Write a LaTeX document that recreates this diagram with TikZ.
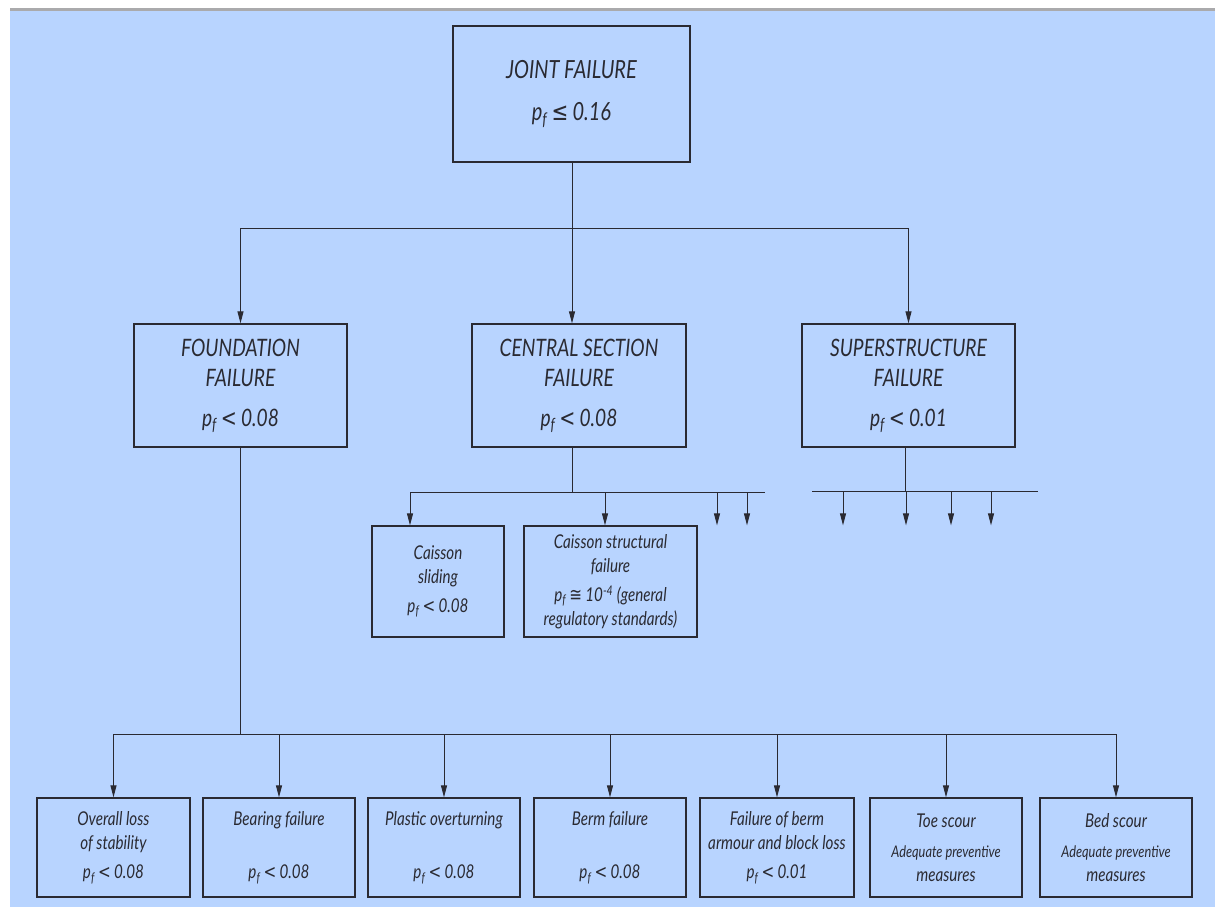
\documentclass[tikz,border=0pt]{standalone}
\usepackage{fontspec}
\setmainfont{Lato}[FakeStretch=0.8]
\newfontfamily\symfont{DejaVu Sans}[FakeStretch=0.8]
\usetikzlibrary{arrows.meta}

\definecolor{sheet}{RGB}{184,212,255}
\definecolor{rulegray}{RGB}{170,170,172}
\definecolor{ink}{RGB}{42,42,50}

\newcommand{\pf}{\textit{p}\textsubscript{\textit{f}}}
\newcommand{\lessthan}{\,{\symfont <}\,}

\tikzset{
  box/.style={draw=ink, line width=1.3pt, fill=sheet, align=center, inner sep=0pt, text=ink},
  bigbox/.style={box, minimum width=213pt, minimum height=123pt, font=\fontsize{24}{30}\selectfont\itshape},
  midbox/.style={box, minimum height=111pt, font=\fontsize{19}{24}\selectfont\itshape},
  lowbox/.style={box, minimum width=152pt, minimum height=99pt, font=\fontsize{19}{24}\selectfont\itshape},
  wire/.style={draw=ink, line width=1pt},
  arr/.style={wire, -{Triangle[length=12pt,width=6pt]}},
}

\begin{document}
\begin{tikzpicture}[x=1pt,y=-1pt]
  % sheet and rule along the top
  \fill[white] (0,0) rectangle (1215,907);
  \fill[sheet] (10,11) rectangle (1215,907);
  \fill[rulegray] (10,8) rectangle (1215,11);
  \useasboundingbox (0,0) rectangle (1215,907);

  % top event
  \node[box, minimum width=237pt, minimum height=136pt, font=\fontsize{25}{30}\selectfont\itshape] (joint) at (571.5,94)
    {JOINT FAILURE\\[12pt]\pf\,{\symfont ≤}\,0.16};

  % second level
  \node[bigbox] (found) at (240.5,385.5) {FOUNDATION\\FAILURE\\[10pt]\pf\lessthan 0.08};
  \node[bigbox, minimum width=214pt] (central) at (579,385.5) {CENTRAL SECTION\\FAILURE\\[10pt]\pf\lessthan 0.08};
  \node[bigbox] (super) at (908.5,385.5) {SUPERSTRUCTURE\\FAILURE\\[10pt]\pf\lessthan 0.01};

  \coordinate (jbus) at (572,228);
  \draw[wire] (joint.south -| jbus) -- (jbus);
  \draw[arr] (jbus) -| (found.north);
  \draw[arr] (jbus) -- (jbus |- central.north);
  \draw[arr] (jbus) -| (super.north);

  % central section branch
  \node[midbox, minimum width=132pt] (slide) at (438,581.5) {Caisson\\sliding\\[5pt]\pf\lessthan 0.08};
  \node[midbox, minimum width=173pt] (struct) at (610.5,581.5)
    {Caisson structural\\failure\\[5pt]\pf\,{\symfont ≅}\,10\textsuperscript{-4} (general\\regulatory standards)};

  \coordinate (cbus) at (572,492);
  \coordinate (cl) at (410,492);
  \coordinate (cr) at (765,492);
  \draw[wire] (central.south -| cbus) -- (cbus);
  \draw[wire] (cl) -- (cr);
  \draw[arr] (cl) -- (cl |- slide.north);
  \foreach \x [count=\i] in {605,717,747} {
    \coordinate (c\i) at (\x,492);
    \draw[arr] (c\i) -- (c\i |- struct.north);
  }

  % superstructure branch
  \coordinate (sbus) at (905,491);
  \draw[wire] (super.south -| sbus) -- (sbus);
  \draw[wire] (812,491) coordinate (sl) -- (1038,491) coordinate (sr);
  \foreach \x [count=\i] in {843,906,951,991} {
    \coordinate (s\i) at (\x,491);
    \draw[arr] (s\i) -- (s\i |- struct.north);
  }

  % foundation failure modes
  \node[lowbox, minimum width=153pt] (b1) at (113.5,847.5) {Overall loss\\of stability\\[5pt]\pf\lessthan 0.08};
  \node[lowbox] (b2) at (279,847.5) {Bearing failure\\[29pt]\pf\lessthan 0.08};
  \node[lowbox] (b3) at (444,847.5) {Plastic overturning\\[29pt]\pf\lessthan 0.08};
  \node[lowbox] (b4) at (610,847.5) {Berm failure\\[29pt]\pf\lessthan 0.08};
  \node[lowbox, minimum width=154pt] (b5) at (777,847.5) {Failure of berm\\armour and block loss\\[5pt]\pf\lessthan 0.01};
  \node[lowbox] (b6) at (946,847.5) {Toe scour\\[6pt]\fontsize{16}{24}\selectfont Adequate preventive\\measures};
  \node[lowbox] (b7) at (1116,847.5) {Bed scour\\[6pt]\fontsize{16}{24}\selectfont Adequate preventive\\measures};

  \coordinate (fbus) at (240.5,734);
  \draw[wire] (found.south) -- (fbus);
  \draw[wire] (b1.north |- fbus) -- (b7.north |- fbus);
  \foreach \b in {b1,b2,b3,b4,b5,b6,b7}
    \draw[arr] (\b.north |- fbus) -- (\b.north);
\end{tikzpicture}
\end{document}
